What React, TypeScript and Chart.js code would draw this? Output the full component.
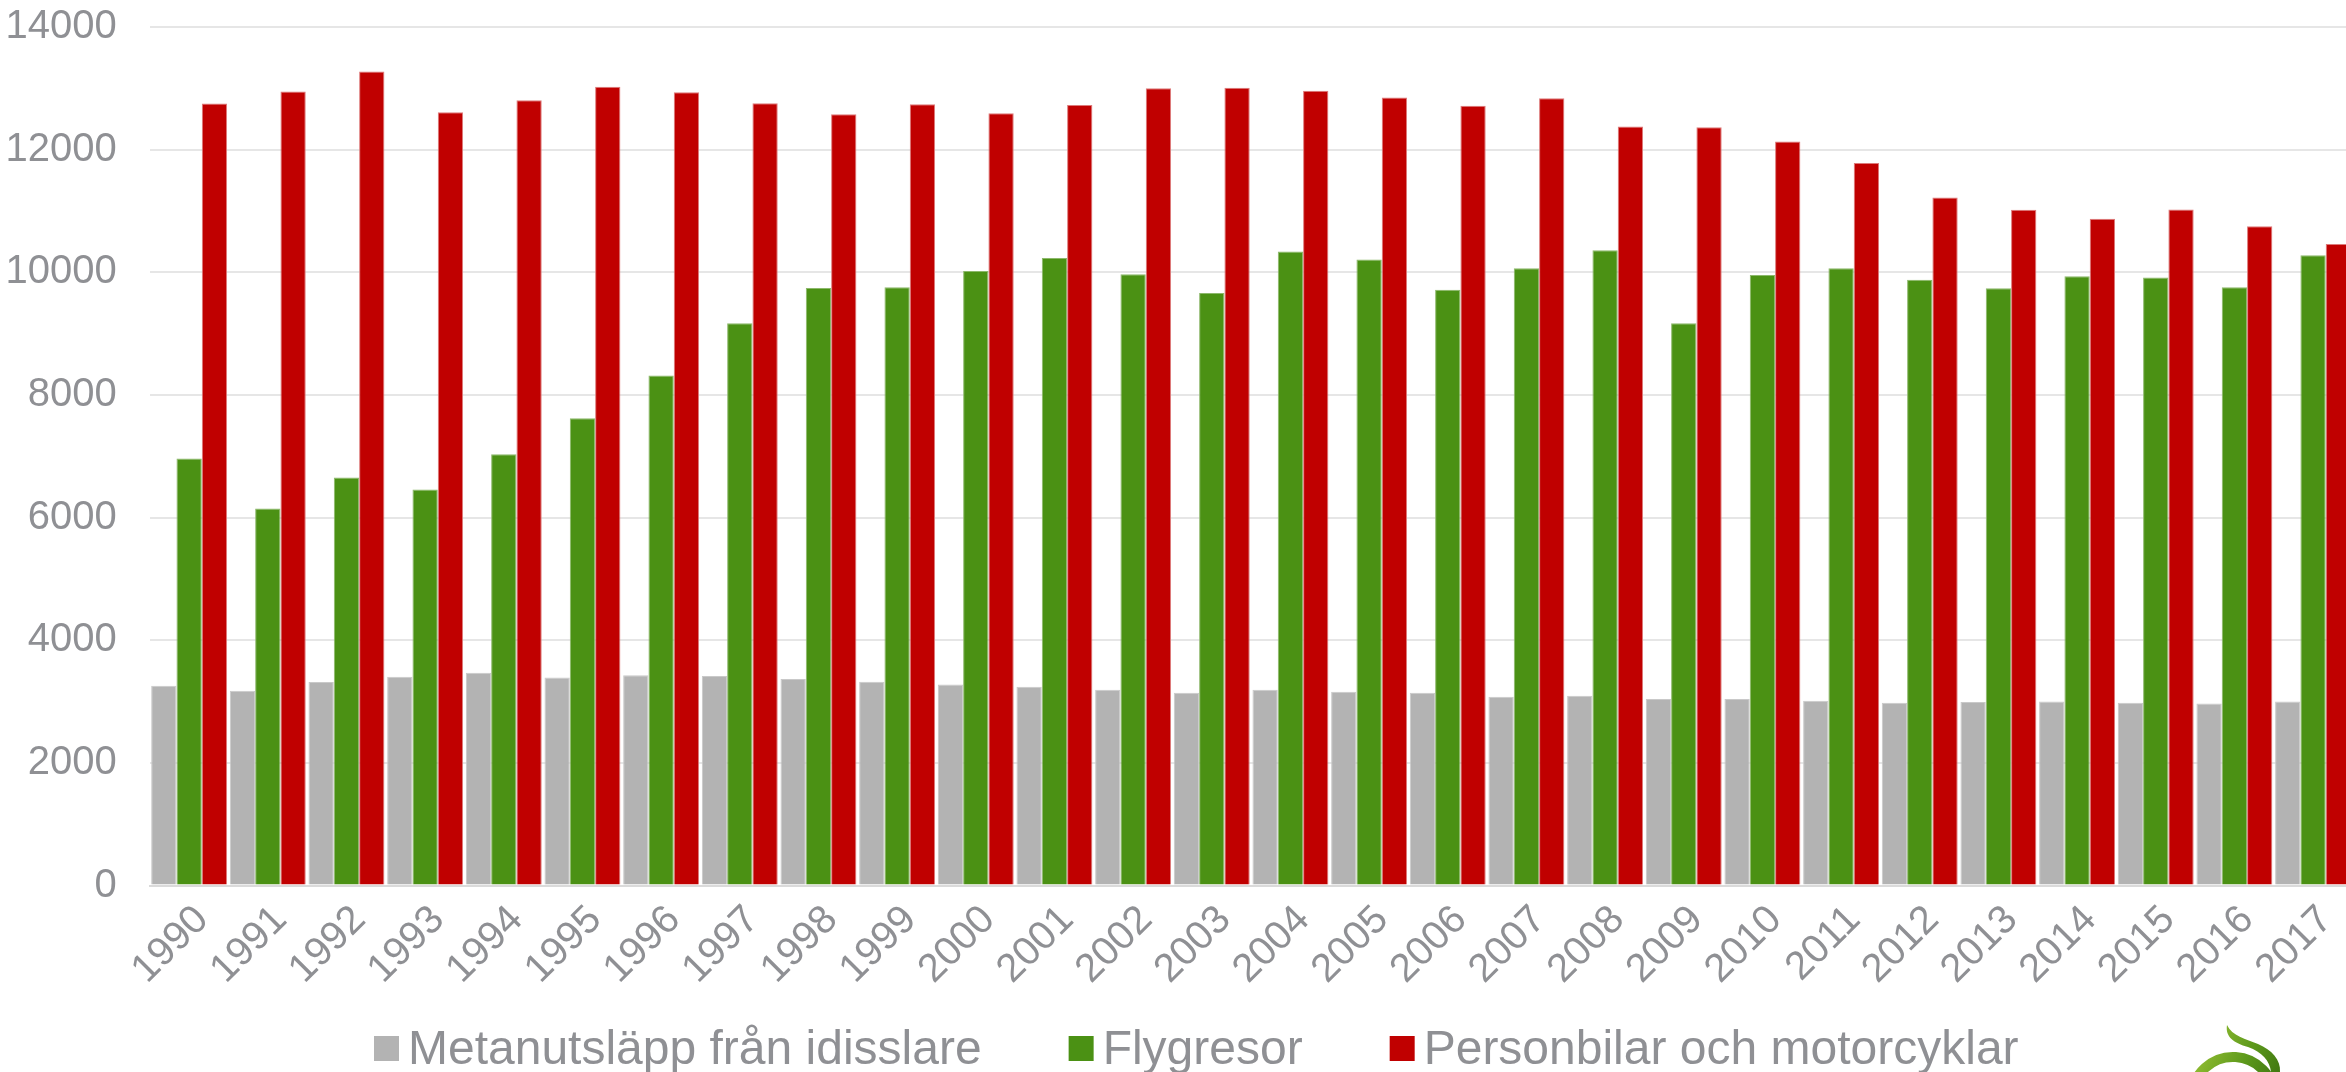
import React, { useEffect, useRef } from 'react';
import { Chart, registerables } from 'chart.js';

Chart.register(...registerables);

const years = ['1990','1991','1992','1993','1994','1995','1996','1997','1998','1999','2000','2001','2002','2003','2004','2005','2006','2007','2008','2009','2010','2011','2012','2013','2014','2015','2016','2017'];

const metanutslapp = [3258,3176,3318,3405,3470,3394,3427,3416,3367,3323,3279,3241,3193,3143,3193,3160,3143,3078,3094,3040,3040,3013,2980,2991,3000,2980,2969,3002];
const flygresor = [6962,6147,6652,6456,7032,7619,8315,9168,9745,9755,10022,10234,9967,9663,10337,10207,9717,10065,10359,9168,9957,10065,9880,9739,9935,9913,9755,10277];
const personbilar = [12752,12948,13275,12610,12807,13025,12937,12757,12578,12741,12594,12730,13003,13008,12959,12850,12714,12839,12376,12365,12131,11782,11221,11019,10872,11024,10752,10463];

const seriesNames = ['Metanutsläpp från idisslare', 'Flygresor', 'Personbilar och motorcyklar'];
const seriesColors = ['#b3b3b3', '#4b9114', '#c00000'];
const seriesEdges = ['#c9c9c9', '#8cb86a', '#dd7a7a'];

const yMin = 0;
const yMax = 14000;
const yStep = 2000;

const FONT = '"Liberation Sans", Arial, Helvetica, sans-serif';
const TEXT_COLOR = '#8f9094';

const legendPlugin = {
  id: 'customLegend',
  afterDraw(chart: any) {
    const ctx = chart.ctx as CanvasRenderingContext2D;
    ctx.save();
    ctx.font = `48px ${FONT}`;
    ctx.textBaseline = 'alphabetic';
    ctx.textAlign = 'left';
    let x = 374;
    const box = 25;
    const boxTop = 1036;
    const textY = 1064;
    for (let i = 0; i < seriesNames.length; i++) {
      ctx.fillStyle = seriesColors[i];
      ctx.fillRect(x, boxTop, box, box);
      const tx = x + box + 9;
      ctx.fillStyle = TEXT_COLOR;
      ctx.fillText(seriesNames[i], tx, textY);
      x = tx + ctx.measureText(seriesNames[i]).width + 87;
    }
    ctx.restore();
  },
};

const logoPlugin = {
  id: 'logo',
  afterDraw(chart: any) {
    const ctx = chart.ctx as CanvasRenderingContext2D;
    ctx.save();
    const g = ctx.createLinearGradient(2190, 1025, 2285, 1072);
    g.addColorStop(0, '#a9cc3c');
    g.addColorStop(0.6, '#5e9a1c');
    g.addColorStop(1, '#3d7410');
    ctx.strokeStyle = g;
    ctx.lineWidth = 10;
    ctx.beginPath();
    ctx.ellipse(2233, 1100, 42, 43, 0, Math.PI * 1.02, Math.PI * 1.98);
    ctx.stroke();
    ctx.fillStyle = g;
    ctx.beginPath();
    ctx.moveTo(2227, 1025);
    ctx.bezierCurveTo(2232, 1036, 2246, 1039, 2258, 1044);
    ctx.bezierCurveTo(2272, 1050, 2281, 1060, 2280, 1072);
    ctx.lineTo(2271, 1072);
    ctx.bezierCurveTo(2270, 1061, 2262, 1052, 2248, 1047);
    ctx.bezierCurveTo(2234, 1043, 2225, 1037, 2227, 1025);
    ctx.closePath();
    ctx.fill();
    ctx.restore();
  },
};

export default function App() {
  const canvasRef = useRef<HTMLCanvasElement | null>(null);

  useEffect(() => {
    const canvas = canvasRef.current;
    if (!canvas) return;
    const datasets = [metanutslapp, flygresor, personbilar].map((data, i) => ({
      label: seriesNames[i],
      data,
      backgroundColor: seriesColors[i],
      borderColor: seriesEdges[i],
      borderWidth: { top: 1, left: 1, right: 1, bottom: 0 },
      borderSkipped: 'start' as const,
      categoryPercentage: 0.965,
      barPercentage: 1.0,
    }));

    const chart = new Chart(canvas, {
      type: 'bar',
      data: { labels: years, datasets },
      options: {
        responsive: false,
        animation: false,
        devicePixelRatio: 1,
        layout: { padding: { top: 27, right: 0, bottom: 0, left: 0 } },
        plugins: {
          legend: { display: false },
          tooltip: { enabled: false },
        },
        scales: {
          x: {
            grid: { display: false, drawTicks: false },
            border: { display: true, color: '#dadada', width: 2 },
            ticks: {
              color: TEXT_COLOR,
              font: { family: FONT, size: 40 },
              minRotation: 45,
              maxRotation: 45,
              autoSkip: false,
              padding: 11,
              labelOffset: 13,
            },
            afterFit: (s: any) => {
              s.height = 1072 - 885.5;
            },
          },
          y: {
            min: yMin,
            max: yMax,
            ticks: {
              stepSize: yStep,
              color: TEXT_COLOR,
              font: { family: FONT, size: 40 },
              padding: 0,
              callback: (v: any) => String(v),
            },
            grid: {
              color: '#e6e6e6',
              lineWidth: 2,
              drawTicks: true,
              tickLength: 33,
              tickColor: 'rgba(0,0,0,0)',
            },
            border: { display: false },
            afterFit: (s: any) => {
              s.width = 149.8;
            },
          },
        },
      },
      plugins: [legendPlugin, logoPlugin],
    });
    return () => chart.destroy();
  }, []);

  return (
    <div style={{ position: 'fixed', left: 0, top: 0, width: 2346, height: 1072, overflow: 'hidden', background: '#fff' }}>
      <canvas ref={canvasRef} width={2358} height={1072} style={{ display: 'block', width: 2358, height: 1072 }} />
    </div>
  );
}
